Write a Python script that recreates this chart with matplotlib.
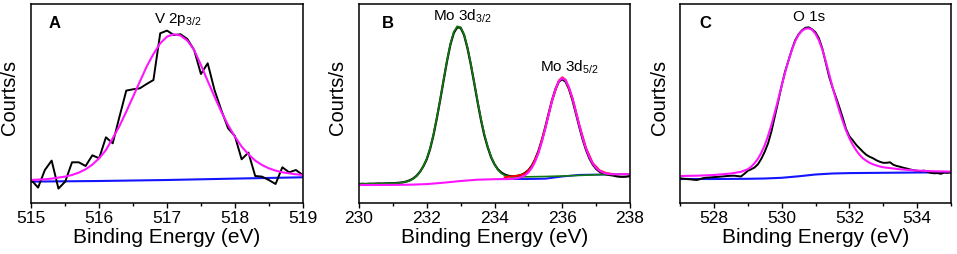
import numpy as np
import matplotlib
matplotlib.use("Agg")
import matplotlib.pyplot as plt
from matplotlib.ticker import MultipleLocator

plt.rcParams['font.family'] = ['Liberation Sans', 'DejaVu Sans']
plt.rcParams['mathtext.default'] = 'regular'

# ---- panel A : V 2p3/2 ----
a_x = np.round(np.arange(515.0, 519.05, 0.1), 1)
a_data = [23.3, 15.7, 33.3, 42.7, 14.7, 21.7, 41.0, 41.0, 37.3, 48.0,
          45.0, 66.0, 60.0, 86.7, 112.7, 114.0, 115.0, 119.3, 123.3, 170.0,
          172.7, 168.3, 169.0, 164.3, 153.3, 129.3, 140.0, 113.3, 93.3, 75.0,
          67.3, 44.0, 50.7, 27.3, 26.7, 23.3, 19.3, 36.0, 31.0, 33.3, 28.3]
a_fit = [23.3, 23.7, 24.0, 24.7, 25.7, 26.7, 28.3, 30.7, 34.0, 38.7,
         45.0, 53.3, 65.0, 77.3, 91.7, 106.7, 121.7, 136.7, 149.3, 160.0,
         166.7, 169.0, 167.7, 162.7, 153.3, 138.3, 122.3, 106.7, 91.7, 78.3,
         66.7, 56.7, 49.0, 42.7, 38.3, 35.0, 32.7, 31.0, 30.0, 29.0, 28.3]
a_bg_x = [515.0, 516.0, 517.0, 518.0, 519.0]
a_bg = [21.7, 22.3, 23.3, 24.7, 26.0]

# ---- panel B : Mo 3d ----
b_x = np.round(np.arange(230.0, 238.05, 0.1), 1)
b_data = [19.3, 19.5, 19.3, 19.6, 19.5, 19.7, 19.8, 19.7, 19.9, 20.0,
          20.1, 20.3, 20.6, 21.0, 21.8, 23.0, 24.8, 27.5, 31.5, 37.0,
          44.0, 54.5, 68.5, 85.5, 104.0, 123.5, 142.5, 159.0, 170.5, 176.0,
          175.5, 168.5, 155.5, 139.0, 120.5, 101.5, 83.5, 68.0, 56.0, 46.0,
          39.0, 34.0, 30.8, 28.8, 27.6, 27.0, 27.1, 27.6, 28.6, 30.3,
          33.1, 37.5, 43.9, 52.5, 63.4, 76.2, 89.9, 103.1, 114.2, 121.7,
          124.1, 121.6, 114.3, 103.4, 90.4, 76.9, 64.3, 53.6, 45.0, 38.8,
          34.4, 31.6, 29.9, 28.9, 28.3, 27.8, 27.0, 26.6, 26.5, 26.7,
          27.3]
b_green_x = list(np.round(np.arange(230.0, 234.45, 0.1), 1)) + [234.5, 235.0, 235.5, 236.0, 236.5, 237.0, 237.5, 238.0]
b_green = [19.3, 19.4, 19.4, 19.5, 19.6, 19.6, 19.7, 19.8, 19.9, 20.0,
           20.1, 20.2, 20.5, 20.9, 21.6, 22.7, 24.5, 27.2, 31.3, 37.2,
           44.5, 55.0, 69.0, 86.0, 104.5, 124.0, 143.0, 159.5, 171.5, 177.0,
           176.0, 169.0, 156.0, 139.5, 121.0, 102.0, 84.5, 69.0, 56.5, 46.5,
           39.0, 33.5, 30.0, 28.0, 27.0,
           26.5, 26.5, 26.8, 27.3, 27.9, 28.5, 29.0, 29.3]
b_mag_x = [230.0, 230.5, 231.0, 231.5, 232.0, 232.5, 233.0, 233.5, 234.0, 234.5] + \
    list(np.round(np.arange(234.6, 237.55, 0.1), 1)) + [238.0]
b_mag = [18.3, 18.3, 18.4, 18.6, 19.2, 20.6, 22.3, 23.6, 24.1, 24.3,
         24.8, 25.3, 26.3, 28.0, 30.9, 35.3, 41.7, 50.5, 61.6, 74.7,
         88.8, 102.5, 114.2, 122.1, 125.3, 123.0, 116.0, 105.1, 92.1, 78.5,
         65.8, 55.0, 46.2, 39.8, 35.4, 32.5, 30.8, 29.8, 29.3, 29.0,
         29.2]
b_red_x = [234.3, 234.5, 234.7, 234.9, 235.1, 235.3, 235.5, 235.7, 235.9, 236.0,
           236.1, 236.3, 236.5, 236.7, 236.9, 237.1, 237.3, 237.5]
b_red = [26.0, 27.0, 27.6, 29.5, 36.5, 51.5, 75.5, 103.0, 122.8, 126.0,
         123.5, 105.5, 79.0, 55.5, 40.3, 33.0, 30.2, 29.3]
b_bg_x = [234.2, 235.0, 235.5, 236.0, 236.5, 237.0, 237.5]
b_bg = [24.3, 24.3, 24.6, 26.8, 28.4, 28.7, 28.9]

# ---- panel C : O 1s ----
c_x = np.round(np.arange(527.0, 535.05, 0.1), 1)
c_data = [25.0, 24.6, 24.3, 24.0, 23.6, 23.3, 24.3, 25.3, 25.7, 25.9,
          26.2, 26.4, 26.7, 27.0, 27.3, 27.5, 27.6, 27.2, 26.8, 29.5,
          32.5, 34.0, 35.8, 39.0, 44.5, 51.5, 60.0, 72.0, 87.0, 102.0,
          117.5, 131.5, 142.5, 153.5, 163.0, 169.0, 173.0, 175.5, 176.0, 174.0,
          171.0, 165.0, 155.0, 141.0, 127.0, 116.0, 106.5, 96.5, 86.0, 74.5,
          67.0, 63.0, 58.5, 55.0, 51.5, 48.5, 46.5, 45.0, 43.0, 41.5,
          40.5, 40.5, 41.0, 38.5, 37.3, 36.5, 35.5, 34.7, 33.8, 33.0,
          32.6, 32.0, 32.7, 31.5, 30.5, 30.0, 30.2, 29.5, 30.7, 30.5,
          31.0]
c_fit_x = [527.0, 527.5, 528.0, 528.5, 528.8] + \
    list(np.round(np.arange(529.0, 533.05, 0.1), 1)) + [533.5, 534.0, 534.5, 535.0]
c_fit = [27.3, 27.6, 28.3, 29.8, 31.5,
         34.0, 36.5, 40.0, 44.5, 50.5, 58.0, 67.5, 78.5, 91.0, 104.0,
         117.5, 130.5, 142.5, 153.0, 162.0, 168.5, 172.5, 174.5, 175.0, 173.5,
         169.5, 163.0, 154.0, 142.5, 129.5, 116.5, 104.5, 93.0, 82.5, 73.0,
         65.0, 58.5, 53.0, 48.5, 45.0, 42.5, 40.5, 39.0, 37.8, 36.8,
         36.0,
         34.0, 32.7, 32.0, 31.7]
c_bg_x = [527.0, 528.0, 529.0, 529.5, 530.0, 530.5, 531.0, 531.5, 532.0, 533.0, 534.0, 535.0]
c_bg = [24.3, 24.3, 24.5, 24.8, 25.5, 27.0, 28.8, 29.8, 30.2, 30.5, 30.8, 31.0]

MAG = '#ff14ff'
BLUE = '#1414ff'
GREEN = '#107a10'

fig = plt.figure(figsize=(9.57, 2.54), dpi=100)
W, H = 957.0, 254.0
ax_a = fig.add_axes([31.3 / W, 50.7 / H, 271.4 / W, 199.3 / H])
ax_b = fig.add_axes([359.0 / W, 50.7 / H, 271.0 / W, 199.3 / H])
ax_c = fig.add_axes([680.0 / W, 50.7 / H, 271.0 / W, 199.3 / H])

# A
ax_a.plot(a_bg_x, a_bg, color=BLUE, lw=1.5)
ax_a.plot(a_x, a_data, color='black', lw=1.4)
ax_a.plot(a_x, a_fit, color=MAG, lw=1.5)
ax_a.set_xlim(515, 519)
ax_a.xaxis.set_major_locator(MultipleLocator(1))
ax_a.xaxis.set_minor_locator(MultipleLocator(0.5))
ax_a.text(515.34, 180, 'A', fontsize=12, fontweight='bold', ha='center', va='center')
ax_a.text(516.81, 180.6, r'V 2p$_{3/2}$', fontsize=11, ha='left', va='baseline')

# B
ax_b.plot(b_bg_x, b_bg, color=BLUE, lw=1.4)
ax_b.plot(b_x, b_data, color='black', lw=1.6)
ax_b.plot(b_green_x, b_green, color=GREEN, lw=1.2)
ax_b.plot(b_red_x, b_red, color='red', lw=1.4)
ax_b.plot(b_mag_x, b_mag, color=MAG, lw=1.5)
ax_b.set_xlim(230, 238)
ax_b.xaxis.set_major_locator(MultipleLocator(2))
ax_b.xaxis.set_minor_locator(MultipleLocator(1))
ax_b.text(230.86, 180, 'B', fontsize=12, fontweight='bold', ha='center', va='center')
ax_b.text(232.17, 182.6, r'Mo 3d$_{3/2}$', fontsize=11, ha='left', va='baseline')
ax_b.text(235.34, 131.6, r'Mo 3d$_{5/2}$', fontsize=11, ha='left', va='baseline')

# C
ax_c.plot(c_bg_x, c_bg, color=BLUE, lw=1.5)
ax_c.plot(c_x, c_data, color='black', lw=1.4)
ax_c.plot(c_fit_x, c_fit, color=MAG, lw=1.5)
ax_c.set_xlim(527, 535)
ax_c.xaxis.set_major_locator(MultipleLocator(2))
ax_c.xaxis.set_minor_locator(MultipleLocator(1))
ax_c.text(527.74, 180, 'C', fontsize=12, fontweight='bold', ha='center', va='center')
ax_c.text(530.34, 182.6, 'O 1s', fontsize=11, ha='left', va='baseline')

for ax, ylx in [(ax_a, -0.045), (ax_b, -0.045), (ax_c, -0.04)]:
    ax.set_ylim(0, 199.3)
    ax.set_yticks([])
    for s in ax.spines.values():
        s.set_linewidth(1.1)
    ax.tick_params(axis='x', which='major', direction='out', length=3.5, width=1.0,
                   pad=2, labelsize=12.5)
    ax.tick_params(axis='x', which='minor', direction='out', length=2.2, width=1.0)
    ax.set_xlabel('Binding Energy (eV)', fontsize=15)
    ax.xaxis.set_label_coords(0.5, -0.125)
    ax.set_ylabel('Courts/s', fontsize=14.5)
    ax.yaxis.set_label_coords(ylx, 0.53)

fig.savefig('out.png', dpi=100)
